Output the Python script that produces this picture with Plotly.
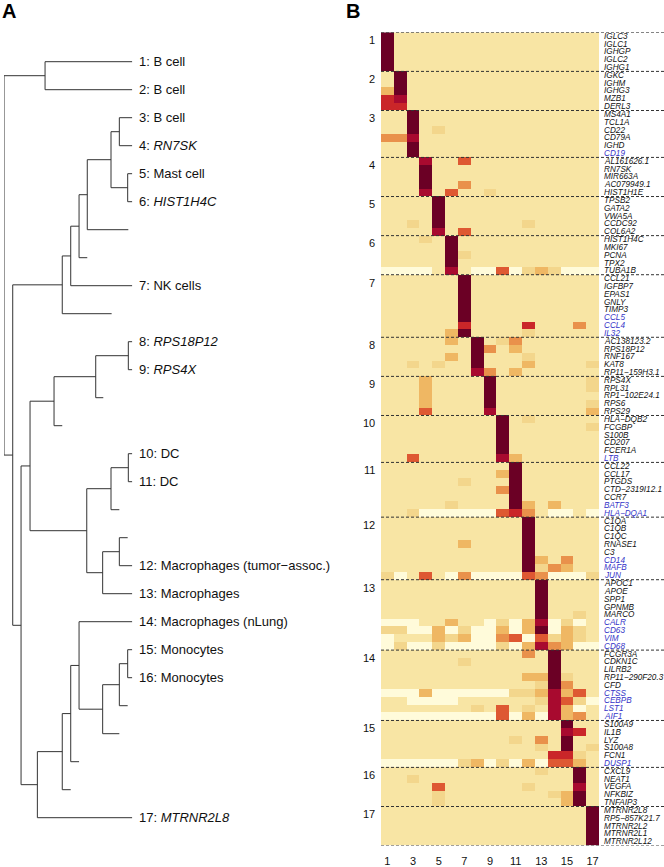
import plotly.graph_objects as go

W, H = 664, 867
FONT = "Liberation Sans, Arial, sans-serif"

# ---------------- Panel A: dendrogram data ----------------
leaf_labels = ["1: B cell", "2: B cell", "3: B cell", "4: <i>RN7SK</i>", "5: Mast cell",
               "6: <i>HIST1H4C</i>", "", "", "7: NK cells", "", "8: <i>RPS18P12</i>",
               "9: <i>RPS4X</i>", "", "", "10: DC", "11: DC", "", "",
               "12: Macrophages (tumor\u2212assoc.)", "13: Macrophages",
               "14: Macrophages (nLung)", "15: Monocytes", "16: Monocytes",
               "", "", "", "", "17: <i>MTRNR2L8</i>"]
leaf_end_height = [0, 0, 0, 0, 0, 0, 0.031, 0.351, 0, 0.161, 0, 0, 0.226, 0.546, 0, 0,
                   0.101, 0.036, 0, 0, 0, 0, 0, 0.036, 0.101, 0.415, 0.480, 0]
# merges: negative = leaf -(i+1), positive = earlier merge (1-based)
merge_a = [-1, -3, -5, 2, 4, 5, 6, 7, -11, 9, 10, -15, 12, -18, 14, 13, 11,
           -22, 18, 19, -21, 21, 22, 23, 17, 8, 1]
merge_b = [-2, -4, -6, 3, -7, -8, -9, -10, -12, -13, -14, -16, -17, -19, -20, 15, 16,
           -23, -24, -25, 20, -26, -27, -28, 24, 25, 26]
merge_h = [0.680, 0.101, 0.036, 0.166, 0.351, 0.415, 0.480, 0.546, 0.031, 0.285, 0.610,
           0.031, 0.166, 0.101, 0.231, 0.355, 0.797, 0.036, 0.101, 0.231, 0.415, 0.480,
           0.546, 0.740, 0.867, 0.932, 1.000]

# ---------------- Panel B: heatmap data ----------------
cluster_names = [str(i) for i in range(1, 18)]
genes_by_cluster = [
    ["IGLC3", "IGLC1", "IGHGP", "IGLC2", "IGHG1"],
    ["IGKC", "IGHM", "IGHG3", "MZB1", "DERL3"],
    ["MS4A1", "TCL1A", "CD22", "CD79A", "IGHD", "CD19"],
    ["AL161626.1", "RN7SK", "MIR663A", "AC079949.1", "HIST1H1E"],
    ["TPSB2", "GATA2", "VWA5A", "CCDC92", "COL6A2"],
    ["HIST1H4C", "MKI67", "PCNA", "TPX2", "TUBA1B"],
    ["CCL21", "IGFBP7", "EPAS1", "GNLY", "TIMP3", "CCL5", "CCL4", "IL32"],
    ["AC138123.2", "RPS18P12", "RNF167", "KAT8", "RP11\u2212159H3.1"],
    ["RPS4X", "RPL31", "RP1\u2212102E24.1", "RPS6", "RPS29"],
    ["HLA\u2212DQB2", "FCGBP", "S100B", "CD207", "FCER1A", "LTB"],
    ["CCL22", "CCL17", "PTGDS", "CTD\u22122319I12.1", "CCR7", "BATF3", "HLA\u2212DQA1"],
    ["C1QA", "C1QB", "C1QC", "RNASE1", "C3", "CD14", "MAFB", "JUN"],
    ["APOC1", "APOE", "SPP1", "GPNMB", "MARCO", "CALR", "CD63", "VIM", "CD68"],
    ["FCGR3A", "CDKN1C", "LILRB2", "RP11\u2212290F20.3", "CFD", "CTSS", "CEBPB", "LST1", "AIF1"],
    ["S100A9", "IL1B", "LYZ", "S100A8", "FCN1", "DUSP1"],
    ["CXCL9", "NEAT1", "VEGFA", "NFKBIZ", "TNFAIP3"],
    ["MTRNR2L8", "RP5\u2212857K21.7", "MTRNR2L2", "MTRNR2L1", "MTRNR2L12"],
]
blue_genes = ["CD19", "CCL5", "CCL4", "IL32", "LTB", "BATF3", "HLA\u2212DQA1", "CD14", "MAFB",
              "JUN", "CALR", "CD63", "VIM", "CD68", "CTSS", "CEBPB", "LST1", "AIF1", "DUSP1"]
column_ticks = [1, 3, 5, 7, 9, 11, 13, 15, 17]

# expression level (0..8) per column 1..17, for rows differing from the plain pattern
row_profiles = {
    "IGHG3": "38111111111111111", "MZB1": "67111111111111111", "DERL3": "66111111111111111",
    "CD22": "11812111111111111", "CD79A": "44711111111111111",
    "AL161626.1": "11171151111111111", "AC079949.1": "11181141111111111",
    "HIST1H1E": "11171511211111111",
    "CCDC92": "11218111111211111", "COL6A2": "11117151111111111",
    "HIST1H4C": "11121811111111111", "PCNA": "11111821111111111",
    "TUBA1B": "00001710050232000",
    "CCL4": "11111161111611141", "IL32": "11111381111211111",
    "AC138123.2": "11111318124111111", "RPS18P12": "11111118413111111",
    "RNF167": "11111318111211111", "KAT8": "11212118111311112",
    "RP11\u2212159H3.1": "11111117413111111",
    "RPS4X": "11131111811111112", "RPL31": "11131111811111112",
    "RP1\u2212102E24.1": "11131111811111111", "RPS6": "11131111811111112",
    "RPS29": "11151111711111113",
    "HLA\u2212DQB2": "11111111181211111", "FCGBP": "11111111181111112",
    "LTB": "11511111173111111",
    "CCL17": "11111111138111111", "PTGDS": "11111121118111111",
    "CTD\u22122319I12.1": "11111111148111111", "BATF3": "11111211118313111",
    "HLA\u2212DQA1": "11200000056410010",
    "RNASE1": "11111131111811111", "CD14": "11111111111831411",
    "MAFB": "11111111111824311", "JUN": "20151040000540002",
    "MARCO": "11111111111181121", "CALR": "00011311020370201",
    "CD63": "22003020030380321", "VIM": "01113230045052321",
    "CD68": "02002000020374300",
    "FCGR3A": "11111111111418111", "CDKN1C": "11111121111118111",
    "RP11\u2212290F20.3": "11111111111338211", "CFD": "11111111111128411",
    "CTSS": "00030000002237351", "CEBPB": "11000011111127520",
    "LST1": "11111112151217301", "AIF1": "00000000050307341",
    "IL1B": "11111111111111761", "LYZ": "11111111112141811",
    "S100A8": "11111111111121812", "FCN1": "11111111111116621",
    "DUSP1": "00000023020305531",
    "CXCL9": "11111111111121181", "NEAT1": "11211111111111181",
    "VEGFA": "11115111111211171", "NFKBIZ": "11112111111112381",
    "TNFAIP3": "11112111111111381",
}
level_colors = ["#FFFBDA", "#F8E5A4", "#F3D68C", "#EFB763", "#E9914B",
                "#DE5832", "#CA2629", "#A80A2F", "#6B0025"]

# ---------------- build heatmap matrix ----------------
genes, z, cluster_starts = [], [], []
for k, glist in enumerate(genes_by_cluster):
    cluster_starts.append(len(genes))
    for g in glist:
        genes.append(g)
        if g in row_profiles:
            lv = [int(c) for c in row_profiles[g]]
        else:
            lv = [1] * 17
            lv[k] = 8
        z.append([v / 8 for v in lv])
n_rows = len(genes)
colorscale = [[i / 8, c] for i, c in enumerate(level_colors)]

fig = go.Figure()
fig.add_trace(go.Heatmap(z=z, x=list(range(1, 18)), y=list(range(n_rows)),
                         colorscale=colorscale, zmin=0, zmax=1, showscale=False,
                         xaxis="x2", yaxis="y2", hoverinfo="skip"))

# ---------------- dendrogram geometry ----------------
node_y, node_h = {}, {}
def child_pos(c):
    if c < 0:
        i = -c - 1
        return float(i), leaf_end_height[i]
    return node_y[c], node_h[c]

lx, ly = [], []
for m in range(len(merge_h)):
    h = merge_h[m]
    ya, ha = child_pos(merge_a[m])
    yb, hb = child_pos(merge_b[m])
    lx += [h, h, None, h, ha, None, h, hb, None]
    ly += [ya, yb, None, ya, ya, None, yb, yb, None]
    node_y[m + 1] = (ya + yb) / 2
    node_h[m + 1] = h

fig.add_trace(go.Scatter(x=lx, y=ly, mode="lines", line=dict(color="#333333", width=1),
                         xaxis="x", yaxis="y", hoverinfo="skip", showlegend=False))

annotations = []
for i, lab in enumerate(leaf_labels):
    if lab:
        annotations.append(dict(x=136.5 / W, xref="paper", y=i, yref="y", text=lab,
                                showarrow=False, xanchor="left", yanchor="middle",
                                font=dict(family=FONT, size=13, color="#111111")))

# gene labels
for r, g in enumerate(genes):
    col = "#3535C8" if g in blue_genes else "#111111"
    annotations.append(dict(x=602 / W, xref="paper", y=r, yref="y2", text="<i>" + g + "</i>",
                            showarrow=False, xanchor="left", yanchor="middle",
                            font=dict(family=FONT, size=8.2, color=col)))
# cluster numbers
for k, s in enumerate(cluster_starts):
    annotations.append(dict(x=377 / W, xref="paper", y=s + 0.5, yref="y2", text=cluster_names[k],
                            showarrow=False, xanchor="right", yanchor="middle",
                            font=dict(family=FONT, size=11, color="#111111")))
# panel letters
annotations.append(dict(x=0, xref="paper", y=1, yref="paper", text="<b>A</b>", yshift=2,
                        showarrow=False, xanchor="left", yanchor="top",
                        font=dict(family=FONT, size=20, color="black")))
annotations.append(dict(x=344 / W, xref="paper", y=1, yref="paper", text="<b>B</b>", yshift=2,
                        showarrow=False, xanchor="left", yanchor="top",
                        font=dict(family=FONT, size=20, color="black")))

# dashed cluster separators
shapes = []
bounds = cluster_starts + [n_rows]
for b in bounds:
    shapes.append(dict(type="line", xref="paper", x0=381 / W, x1=1.0, yref="y2",
                       y0=b - 0.5, y1=b - 0.5, layer="above",
                       line=dict(color="#333333", width=1, dash="3px,2px")))

fig.update_layout(
    width=W, height=H, margin=dict(l=0, r=0, t=0, b=0),
    paper_bgcolor="white", plot_bgcolor="rgba(0,0,0,0)", showlegend=False,
    annotations=annotations, shapes=shapes,
    xaxis=dict(domain=[4 / W, 132.3 / W], range=[1.0, 0.0], visible=False, anchor="y"),
    yaxis=dict(domain=[0, 1], range=[(H - 61.7) / 28, -61.7 / 28], visible=False, anchor="x"),
    xaxis2=dict(domain=[381 / W, 599 / W], range=[0.5, 17.5], tickvals=column_ticks,
                ticktext=[str(t) for t in column_ticks], ticks="outside", ticklen=5,
                tickcolor="rgba(0,0,0,0)", showgrid=False, zeroline=False, showline=False,
                tickfont=dict(family=FONT, size=11, color="#111111"), anchor="y2"),
    yaxis2=dict(domain=[(H - 845.6) / H, (H - 32.3) / H], range=[n_rows - 0.5, -0.5],
                visible=False, anchor="x2"),
)

fig.write_html("out.html", config={"displayModeBar": False},
               post_script="document.body.style.margin='0';document.body.style.overflow='hidden';")
